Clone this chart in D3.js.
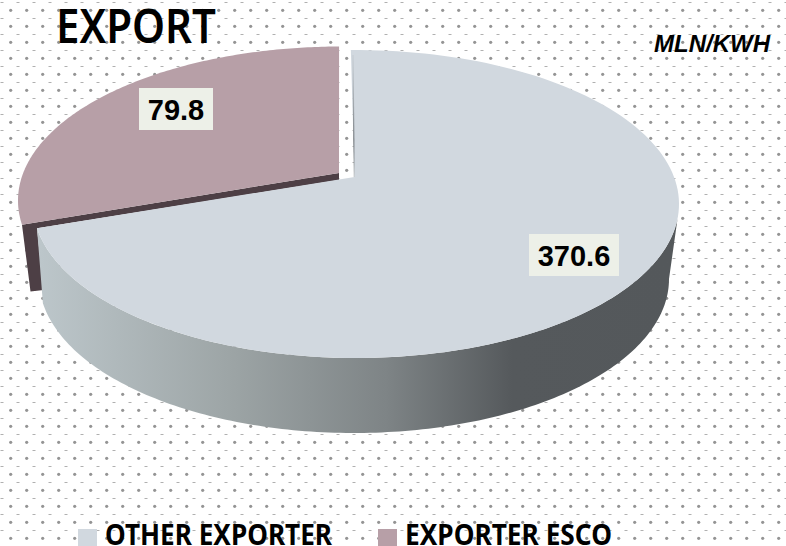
<!DOCTYPE html>
<html>
<head>
<meta charset="utf-8">
<script src="https://cdn.jsdelivr.net/npm/d3@7"></script>
<style>
  html, body { margin: 0; padding: 0; background: #fff; overflow: hidden; }
  svg { display: block; }
</style>
</head>
<body>
<div id="chart"></div>
<script>
//Data
var categories = ['OTHER EXPORTER', 'EXPORTER ESCO'];
var values = [370.6, 79.8];
//Slice sizes as drawn in the picture (%), they do not follow the printed labels
var sliceShares = [72.75, 27.25];
var colors = ['#d1d8df', '#b79fa7'];

var chartTitle = 'EXPORT';
var unit = 'MLN/KWH';

var width = 786, height = 546;

var svg = d3.select('#chart').append('svg').attr('width', width).attr('height', height);
var defs = svg.append('defs');

//Background dots
var pattern = defs.append('pattern').attr('id', 'dots').attr('patternUnits', 'userSpaceOnUse')
  .attr('width', 16).attr('height', 16);
pattern.append('circle').attr('cx', 10.7).attr('cy', 10.3).attr('r', 1.6).attr('fill', '#949494');
pattern.append('rect').attr('x', 0.5).attr('y', 2).attr('width', 3).attr('height', 1).attr('fill', '#b0b0b0');
svg.append('rect').attr('width', width).attr('height', height).attr('fill', 'url(#dots)');

//Side wall gradient
var sideGrad = defs.append('linearGradient').attr('id', 'side').attr('gradientUnits', 'userSpaceOnUse')
  .attr('x1', 40).attr('x2', 670).attr('y1', 0).attr('y2', 0);
sideGrad.append('stop').attr('offset', '0%').attr('stop-color', '#bcc6ca');
sideGrad.append('stop').attr('offset', '30%').attr('stop-color', '#9da5a6');
sideGrad.append('stop').attr('offset', '55%').attr('stop-color', '#7e8486');
sideGrad.append('stop').attr('offset', '75%').attr('stop-color', '#55595c');
sideGrad.append('stop').attr('offset', '100%').attr('stop-color', '#54585b');

var pie = d3.pie().sort(null).value(function(d){ return d; })
  .startAngle(-0.016).endAngle(Math.PI * 2 - 0.016);
var arcs = pie(sliceShares);

//Perspective pie: each ellipse has its own centre, apex sits above the centre
var topOther = { cx: 356, cy: 204, rx: 323, ry: 154 };
var topEsco = { cx: 341, cy: 200.5, rx: 323, ry: 154 };
var bottomOther = { cx: 354, cy: 279, rx: 315, ry: 154 };
var apexOther = [354.5, 177];
var apexEsco = [339, 173];

var rimPoints = function(ell, a0, a1){
  return d3.quantize(d3.interpolateNumber(a0, a1), 160).map(function(a){
    return [ell.cx + ell.rx * Math.sin(a), ell.cy - ell.ry * Math.cos(a)];
  });
};
var pathLine = d3.line();
var closedPath = function(pts){ return pathLine(pts) + 'Z'; };

var otherArc = arcs[0], escoArc = arcs[1];
var otherEnd = rimPoints(topOther, otherArc.endAngle, otherArc.endAngle)[0];
var escoStart = rimPoints(topEsco, escoArc.startAngle, escoArc.startAngle)[0];

//ESCO cut face, mostly hidden behind the other slice
var wallBottom = bottomOther.cy + 12.5;
svg.append('path')
  .attr('d', closedPath([escoStart, apexEsco, [apexEsco[0], apexOther[1] + 3], otherEnd, [43.5, wallBottom - 1.5], [30.5, wallBottom]]))
  .attr('fill', '#4d3f45');

//Side wall of the other slice
var sideTop = rimPoints(topOther, Math.PI * 0.53, otherArc.endAngle);
var sideBottom = rimPoints(bottomOther, Math.PI * 0.5, otherArc.endAngle).reverse();
svg.append('path').attr('d', closedPath(sideTop.concat(sideBottom))).attr('fill', 'url(#side)');

//Tops
svg.append('path')
  .attr('d', closedPath([apexOther].concat(rimPoints(topOther, otherArc.startAngle, otherArc.endAngle))))
  .attr('fill', colors[0]);
svg.append('path')
  .attr('d', closedPath([apexEsco].concat(rimPoints(topEsco, escoArc.startAngle, escoArc.endAngle + 0.01))))
  .attr('fill', colors[1]);

//Thin shaded edge on the gap side of the other slice
var edgeGrad = defs.append('linearGradient').attr('id', 'edge').attr('gradientUnits', 'userSpaceOnUse')
  .attr('x1', 0).attr('x2', 0).attr('y1', 55).attr('y2', 177);
edgeGrad.append('stop').attr('offset', '0%').attr('stop-color', '#9aa0a4').attr('stop-opacity', 0.2);
edgeGrad.append('stop').attr('offset', '70%').attr('stop-color', '#6f7478').attr('stop-opacity', 0.9);
edgeGrad.append('stop').attr('offset', '100%').attr('stop-color', '#9aa0a4').attr('stop-opacity', 0.5);
svg.append('line').attr('x1', 353).attr('y1', 55).attr('x2', 354.2).attr('y2', 177)
  .attr('stroke', 'url(#edge)').attr('stroke-width', 1.2);

//Value labels
var labelFormat = d3.format('.1f');
var labelBoxes = [
  { x: 529, y: 234, w: 90, h: 42 },
  { x: 139, y: 88, w: 74, h: 42 }
];
var labels = svg.selectAll('.label').data(values).enter().append('g').attr('class', 'label');
labels.append('rect')
  .attr('x', function(d, i){ return labelBoxes[i].x; })
  .attr('y', function(d, i){ return labelBoxes[i].y; })
  .attr('width', function(d, i){ return labelBoxes[i].w; })
  .attr('height', function(d, i){ return labelBoxes[i].h; })
  .attr('fill', '#edf0e8');
labels.append('text')
  .attr('x', function(d, i){ return labelBoxes[i].x + labelBoxes[i].w / 2; })
  .attr('y', function(d, i){ return labelBoxes[i].y + 32; })
  .attr('text-anchor', 'middle')
  .attr('font-family', '"Liberation Sans", Arial, sans-serif')
  .attr('font-weight', 700).attr('font-size', 29).attr('fill', '#000')
  .text(function(d){ return labelFormat(d); });

//Title + unit
svg.append('text').attr('x', 56).attr('y', 43)
  .attr('font-family', '"Noto Sans", sans-serif').attr('font-weight', 600).attr('font-size', 46).attr('fill', '#000')
  .attr('textLength', 160).attr('lengthAdjust', 'spacingAndGlyphs')
  .text(chartTitle);
svg.append('text').attr('x', 654).attr('y', 52)
  .attr('font-family', '"Liberation Sans", Arial, sans-serif')
  .attr('font-weight', 700).attr('font-style', 'italic').attr('font-size', 24).attr('fill', '#000')
  .text(unit);

//Legend
var legendSwatchX = [78, 378], legendTextX = [105, 405], legendTextW = [227, 207];
var legend = svg.selectAll('.legend').data(categories).enter().append('g').attr('class', 'legend');
legend.append('rect')
  .attr('x', function(d, i){ return legendSwatchX[i]; })
  .attr('y', 529).attr('width', 19).attr('height', 17)
  .attr('fill', function(d, i){ return colors[i]; });
legend.append('text')
  .attr('x', function(d, i){ return legendTextX[i]; })
  .attr('y', 544.5)
  .attr('font-family', '"Noto Sans", sans-serif').attr('font-weight', 700).attr('font-size', 28).attr('fill', '#000')
  .attr('textLength', function(d, i){ return legendTextW[i]; }).attr('lengthAdjust', 'spacingAndGlyphs')
  .text(function(d){ return d; });
</script>
</body>
</html>
